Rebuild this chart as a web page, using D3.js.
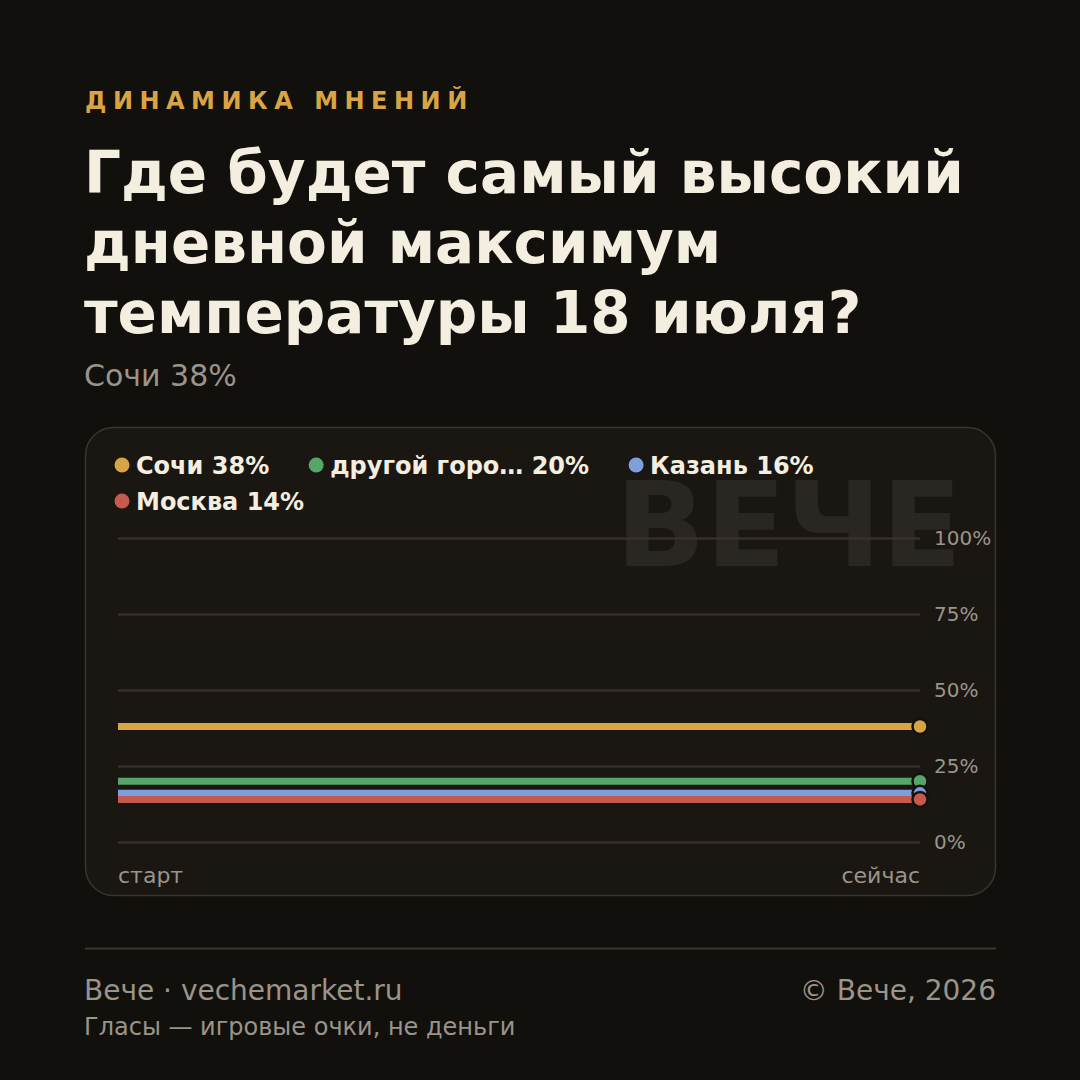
<!DOCTYPE html>
<html lang="ru">
<head>
<meta charset="utf-8">
<title>Динамика мнений</title>
<script src="https://cdn.jsdelivr.net/npm/d3@7"></script>
<style>
  html, body { margin: 0; padding: 0; background: #12100d; }
  svg { display: block; font-family: "DejaVu Sans", sans-serif; }
</style>
</head>
<body>
<svg id="chart" width="1080" height="1080"></svg>
<script>
// данные
var names = ["Сочи", "другой горо…", "Казань", "Москва"];
var values = [38, 20, 16, 14];
var colors = ["#d9a444", "#56a66a", "#7f9fdc", "#c65a4e"];
var yTicks = [0, 25, 50, 75, 100];
var xLabels = ["старт", "сейчас"];

var W = 1080, H = 1080;
var svg = d3.select("#chart");
svg.append("rect").attr("width", W).attr("height", H).attr("fill", "#12100d");

// заголовок
svg.append("text").attr("x", 85).attr("y", 109)
   .attr("fill", "#d9a444").attr("font-size", 24).attr("font-weight", "bold")
   .attr("letter-spacing", 6.5).text("ДИНАМИКА МНЕНИЙ");
var titleLines = ["Где будет самый высокий", "дневной максимум", "температуры 18 июля?"];
svg.selectAll("text.title").data(titleLines).enter().append("text")
   .attr("class", "title")
   .attr("x", 84).attr("y", function(d, i){ return 193 + i * 70; })
   .attr("fill", "#f3eee0").attr("font-size", 58).attr("font-weight", "bold")
   .text(function(d){ return d; });
svg.append("text").attr("x", 84).attr("y", 386)
   .attr("fill", "#9a948a").attr("font-size", 30)
   .text(names[0] + " " + values[0] + "%");

// карточка
svg.append("rect").attr("x", 85.5).attr("y", 427.5).attr("width", 910).attr("height", 468)
   .attr("rx", 28).attr("fill", "#1a1713").attr("stroke", "#3a352d").attr("stroke-width", 1.5);

// водяной знак
svg.append("text").attr("x", 962).attr("y", 566).attr("text-anchor", "end")
   .attr("fill", "#2a2722").attr("font-size", 118).attr("font-weight", "bold")
   .text("ВЕЧЕ");

// шкалы
var x = d3.scalePoint().domain(xLabels).range([118, 920]);
var y = d3.scaleLinear().domain([0, 100]).range([842, 538]);

// сетка и подписи
var yAxis = d3.axisRight(y).tickValues(yTicks).tickSize(0)
              .tickFormat(function(d){ return d + "%"; });
var gy = svg.append("g").attr("transform", "translate(920,0)").call(yAxis);
gy.select(".domain").remove();
gy.selectAll("text").attr("x", 14).attr("fill", "#9a948a")
  .attr("font-size", 20).attr("font-family", "DejaVu Sans, sans-serif");
svg.append("g").selectAll("line").data(yTicks).enter().append("line")
   .attr("x1", 118).attr("x2", 920)
   .attr("y1", function(d){ return y(d) + 0.5; }).attr("y2", function(d){ return y(d) + 0.5; })
   .attr("stroke", "#38342d").attr("stroke-width", 2);

// подписи оси X
svg.append("text").attr("x", x(xLabels[0])).attr("y", 883)
   .attr("fill", "#9a948a").attr("font-size", 22).text(xLabels[0]);
svg.append("text").attr("x", x(xLabels[1])).attr("y", 883).attr("text-anchor", "end")
   .attr("fill", "#9a948a").attr("font-size", 22).text(xLabels[1]);

// линии серий
var series = names.map(function(n, i){ return {name: n, value: values[i], color: colors[i]}; });
var line = d3.line().x(function(d){ return x(d); });
var g = svg.append("g");
series.forEach(function(s){
  g.append("path")
   .attr("d", line.y(function(){ return y(s.value); })(xLabels.map(function(d, i){ return d; })))
   .attr("stroke", s.color).attr("stroke-width", 7).attr("fill", "none");
});
series.forEach(function(s){
  g.append("circle").attr("cx", x(xLabels[1])).attr("cy", y(s.value)).attr("r", 7.5)
   .attr("fill", s.color).attr("stroke", "#15120f").attr("stroke-width", 2.5);
});

// легенда
var lx = 122, ly = 465, maxX = 960;
var leg = svg.append("g");
series.forEach(function(s){
  var item = leg.append("g");
  item.append("circle").attr("cx", 0).attr("cy", 0).attr("r", 7.5).attr("fill", s.color);
  var t = item.append("text").attr("x", 14).attr("y", 8.5)
     .attr("fill", "#f3eee0").attr("font-size", 24).attr("font-weight", "bold")
     .text(s.name + " " + s.value + "%");
  var w = 14 + t.node().getComputedTextLength();
  if (lx + w > maxX) { lx = 122; ly += 36; }
  item.attr("transform", "translate(" + lx + "," + ly + ")");
  lx += w + 47;
});

// подвал
svg.append("line").attr("x1", 85).attr("x2", 996).attr("y1", 948.5).attr("y2", 948.5)
   .attr("stroke", "#3a352d").attr("stroke-width", 2);
svg.append("text").attr("x", 84).attr("y", 1000).attr("fill", "#9a948a")
   .attr("font-size", 28).text("Вече · vechemarket.ru");
svg.append("text").attr("x", 996).attr("y", 1000).attr("text-anchor", "end")
   .attr("fill", "#9a948a").attr("font-size", 28).text("© Вече, 2026");
svg.append("text").attr("x", 84).attr("y", 1035).attr("fill", "#9a948a")
   .attr("font-size", 24).text("Гласы — игровые очки, не деньги");
</script>
</body>
</html>
